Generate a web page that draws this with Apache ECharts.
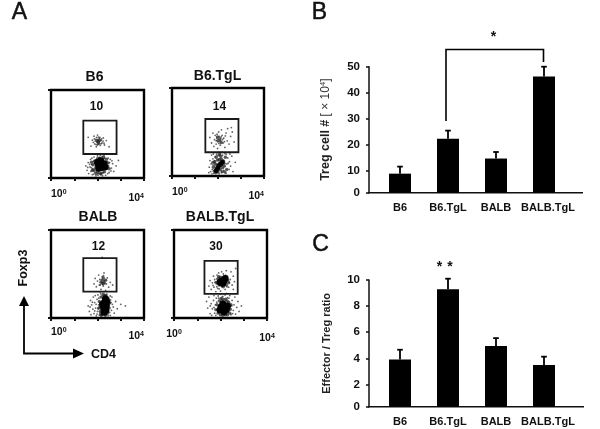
<!DOCTYPE html>
<html><head><meta charset="utf-8">
<style>html,body{margin:0;padding:0;background:#fff}#c{width:600px;height:429px}</style>
<script src="https://cdn.jsdelivr.net/npm/echarts@6/dist/echarts.min.js"></script>
</head><body><div id="c"></div>
<script>
// ---- bar data ----
const categories = ['B6', 'B6.TgL', 'BALB', 'BALB.TgL'];
const tregValues = [9, 22.4, 14.8, 46.2];
const tregUpper = [11.7, 25.5, 17.3, 50];
const ratioValues = [3.92, 9.3, 4.94, 3.5];
const ratioUpper = [4.66, 10.1, 5.55, 4.13];
const tregTicks = [1.7, 10, 20, 30, 40, 50];
const ratioTicks = [0.3, 2, 4, 6, 8, 10];
// ---- flow panels ----
const panelNames = ['B6', 'B6.TgL', 'BALB', 'BALB.TgL'];
const panelPercents = ['10', '14', '12', '30'];
const gateB6 = [1.39, 1.09, 2.82, 2.61];
const gateB6TgL = [1.45, 1.08, 2.89, 2.59];
const gateBALB = [1.39, 1.2, 2.82, 2.72];
const gateBALBTgL = [1.31, 1.1, 2.74, 2.6];
const speckB6 = [[1.6,1.85],[1.72,1.45],[1.78,1.72],[1.85,1.9],[1.88,1.55],[1.92,1.76],[1.95,1.42],[1.98,1.62],[2.0,1.95],[2.02,1.75],[2.05,1.55],[2.07,1.68],[2.1,1.85],[2.12,1.48],[2.15,1.7],[2.2,1.6],[2.25,1.82],[2.3,1.5],[2.38,1.7],[2.5,1.42],[1.9,1.68],[2.0,1.5],[2.08,1.8],[2.18,1.78],[1.5,.55],[1.55,.35],[1.6,.7],[1.62,.2],[1.68,.5],[1.7,.85],[1.72,.3],[1.75,.62],[1.78,.15],[1.8,.42],[1.82,.75],[1.85,.95],[1.88,.25],[1.9,.55],[1.93,.1],[1.95,.82],[1.98,.35],[2.0,1.0],[2.05,.2],[2.08,.92],[2.15,.14],[2.2,.98],[2.25,.25],[2.3,.9],[2.35,.12],[2.4,.4],[2.42,.75],[2.48,.55],[2.5,.25],[2.55,.85],[2.6,.45],[2.65,.65],[2.7,.3],[2.8,.55],[2.9,.8],[1.58,.48],[1.66,.62],[1.74,.46],[1.76,.9],[1.84,.18],[1.86,.66],[1.94,.28],[2.02,.13],[2.12,1.03],[2.22,.1],[2.28,1.02],[2.44,.2],[2.46,.9],[2.52,.7],[2.58,.32],[2.62,.78],[1.82,1.62],[1.86,1.78],[1.94,1.52],[2.04,1.86],[2.16,1.56],[2.24,1.68],[2.28,1.58],[1.96,1.84]];
const midB6 = [[1.8,.6],[1.85,.35],[1.88,.78],[1.92,.45],[1.95,.2],[2.0,.88],[2.02,.28],[2.1,.9],[2.18,.22],[2.3,.28],[2.38,.85],[2.42,.5],[2.45,.68],[2.05,1.58],[1.98,1.7],[2.1,1.72],[1.74,.72],[1.78,.35],[2.12,.2],[2.26,.94],[2.5,.42],[2.02,1.66]];
const coreB6 = [[2.16,.62],[2.04,.6],[2.28,.65],[2.14,.78],[2.2,.48],[2.06,.44],[2.32,.5],[2.0,.72]];
const speckB6TgL = [[1.65,1.75],[1.72,1.5],[1.78,1.95],[1.82,1.35],[1.85,1.65],[1.88,1.85],[1.92,1.45],[1.95,1.72],[1.98,1.25],[2.0,1.55],[2.03,2.0],[2.06,1.8],[2.1,1.4],[2.12,1.62],[2.15,2.1],[2.18,1.85],[2.22,1.5],[2.25,1.72],[2.3,1.3],[2.35,1.95],[2.4,1.6],[2.42,2.15],[2.48,1.45],[2.55,1.8],[2.62,2.0],[2.7,1.55],[2.58,2.2],[1.6,.15],[1.62,.4],[1.65,.7],[1.68,.2],[1.7,.55],[1.72,.95],[1.75,.3],[1.78,.78],[1.8,1.0],[1.82,.12],[1.85,.45],[1.88,.88],[1.9,.22],[1.95,1.05],[2.0,.92],[2.05,.1],[2.1,1.0],[2.15,.15],[2.2,.95],[2.25,.25],[2.3,1.02],[2.35,.12],[2.38,.55],[2.42,.82],[2.48,.3],[2.5,.65],[2.55,.45],[2.6,.9],[2.65,.2],[2.75,.62],[1.92,1.6],[1.96,1.9],[2.04,1.48],[2.08,1.58],[2.14,1.78],[2.2,1.66],[2.28,1.56],[2.32,1.82],[1.74,.1],[1.78,.5],[1.86,.7],[1.94,.96],[2.04,1.08],[2.18,1.08],[2.28,.68],[2.36,.98],[2.44,.58],[2.52,1.0]];
const midB6TgL = [[1.8,.4],[1.85,.65],[1.9,.15],[1.92,.85],[1.96,.5],[2.0,.18],[2.05,.75],[2.1,.3],[2.12,.9],[2.18,.2],[2.22,.7],[2.28,.45],[2.32,.85],[2.38,.3],[2.0,1.62],[2.08,1.7],[2.14,1.52],[1.98,1.78],[1.84,.22],[1.88,.55],[1.98,.72],[2.02,.38],[2.08,.58],[2.14,.78],[2.2,.38],[2.26,.58],[2.3,.18],[1.94,.28],[1.78,.62],[2.06,.98]];
const coreB6TgL = [[1.98,.35],[2.05,.48],[2.12,.55],[1.92,.25],[2.18,.62]];
const speckBALB = [[1.85,1.55],[1.9,1.8],[1.95,1.42],[2.0,1.68],[2.05,1.95],[2.08,1.5],[2.1,1.75],[2.15,1.3],[2.18,1.6],[2.2,1.88],[2.25,1.45],[2.28,2.05],[2.3,1.7],[2.35,1.25],[2.38,1.55],[2.42,1.82],[2.48,1.4],[2.55,1.62],[2.65,1.5],[2.12,1.18],[1.6,.55],[1.65,.3],[1.7,.8],[1.72,.15],[1.75,.6],[1.8,.4],[1.82,.95],[1.85,.2],[1.88,.7],[1.9,1.02],[1.92,.45],[1.95,.1],[1.98,.85],[2.0,.3],[2.02,1.05],[2.05,.6],[2.08,.14],[2.55,.12],[2.58,.7],[2.6,.35],[2.62,.95],[2.68,.5],[2.72,.22],[2.78,.75],[2.85,.42],[3.0,.62],[3.2,.55],[2.2,2.75],[2.05,.9],[2.1,.2],[2.55,1.0],[1.68,.5],[1.78,.72],[1.88,.32],[1.94,.62],[1.98,.18],[2.04,.42],[2.1,.68],[2.14,1.1],[2.2,1.02],[2.4,1.08],[2.46,.1],[2.5,.58],[2.52,.25],[2.56,.82],[2.64,.62],[2.22,1.52],[2.32,1.56],[2.26,1.92],[2.12,1.5]];
const midBALB = [[2.05,.45],[2.08,.75],[2.12,.3],[2.15,.95],[2.18,.15],[2.42,.2],[2.45,.9],[2.5,.45],[2.52,.68],[2.2,1.72],[2.28,1.62],[2.15,1.62],[2.25,1.82],[2.35,1.72],[2.3,1.0],[2.25,1.08],[2.36,1.02],[2.12,.52],[2.16,.12],[2.34,.12],[2.46,.7],[2.24,1.56]];
const coreBALB = [[2.3,.72],[2.26,.45],[2.34,.88],[2.22,.62],[2.38,.55],[2.28,.26],[2.36,.34],[2.4,.75]];
const speckBALBTgL = [[1.5,1.45],[1.55,1.7],[1.6,1.3],[1.65,1.6],[1.7,1.9],[1.72,1.4],[1.75,1.75],[1.8,1.2],[1.82,1.55],[1.85,1.95],[1.88,1.35],[1.92,2.05],[1.95,1.85],[2.0,1.22],[2.05,2.1],[2.12,2.0],[2.2,1.3],[2.25,2.15],[2.3,1.9],[2.35,1.4],[2.42,1.75],[2.45,2.1],[2.5,1.5],[2.55,1.9],[2.6,1.65],[2.55,1.3],[2.65,2.25],[1.4,.75],[1.45,.45],[1.5,.95],[1.55,.2],[1.6,.65],[1.62,.12],[1.65,.42],[1.7,.8],[1.72,1.02],[1.75,.22],[1.78,.6],[1.8,.12],[1.82,.9],[1.85,.38],[1.9,1.0],[2.0,1.08],[2.1,.98],[2.2,1.05],[2.3,.92],[2.4,1.02],[2.45,.15],[2.5,.8],[2.55,.35],[2.58,.6],[2.62,.95],[2.65,.18],[2.7,.48],[2.75,.75],[2.8,.3],[2.9,.55],[1.68,1.48],[1.76,1.62],[1.84,1.42],[1.9,1.68],[1.94,1.32],[2.06,1.42],[2.14,1.9],[2.22,1.95],[2.28,1.42],[2.38,1.62],[1.56,.55],[1.72,.48],[1.84,.72],[1.92,.9],[2.06,.95],[2.16,1.1],[2.26,1.12],[2.36,.9],[2.48,.55],[2.52,.2]];
const midBALBTgL = [[1.85,.6],[1.9,.22],[1.95,.78],[2.0,.14],[2.02,.88],[2.1,.85],[2.22,.85],[2.3,.15],[2.35,.72],[2.42,.4],[2.45,.6],[1.82,1.62],[1.88,1.78],[1.95,1.5],[2.25,1.5],[2.3,1.72],[2.35,1.6],[1.8,.38],[2.1,.12],[2.2,.14],[2.4,.22],[2.28,.78],[1.92,1.88],[2.0,1.86],[2.2,1.6],[2.12,1.42],[2.04,1.5]];
const coreBALBTgL = [[2.15,.47],[2.02,.5],[2.25,.38],[2.1,.65],[2.3,.55],[1.98,.36],[2.15,.28],[2.05,1.68],[2.15,1.72],[1.98,1.62],[2.2,1.8],[2.1,1.58]];

const fmtFont = 'Liberation Sans, Arial, sans-serif';
const flowGrids = [
  {left: 51, top: 90, width: 93, height: 88},
  {left: 172, top: 88, width: 92, height: 88},
  {left: 51, top: 230, width: 93, height: 88},
  {left: 174, top: 230, width: 93, height: 88}
];
const flowLabelMargin = [11, 11, 9, 11];
const flowLabelAlign = ['left', 'left', 'left', 'center'];
const flowGates = [gateB6, gateB6TgL, gateBALB, gateBALBTgL];
const flowSpecks = [speckB6, speckB6TgL, speckBALB, speckBALBTgL];
const flowMids = [midB6, midB6TgL, midBALB, midBALBTgL];
const flowCores = [coreB6, coreB6TgL, coreBALB, coreBALBTgL];

const grid = [], xAxis = [], yAxis = [], series = [];
const base = {fontFamily: fmtFont, fontWeight: 'bold', color: '#111'};
const supRich = {
  a: Object.assign({fontSize: 10.5}, base),
  s: Object.assign({fontSize: 7, padding: [0, 0, 4, 0]}, base),
  c: Object.assign({fontSize: 10.5, padding: [4, 0, 0, 0]}, base),
  d: Object.assign({fontSize: 7}, base)
};
flowGrids.forEach((g, i) => {
  grid.push(Object.assign({show: true, borderColor: '#000', borderWidth: 2.4, backgroundColor: '#fff'}, g));
  xAxis.push({gridIndex: i, type: 'value', min: 0, max: 4, interval: 1,
    axisLine: {show: false}, splitLine: {show: false},
    axisTick: {show: true, inside: false, length: 3, lineStyle: {color: '#111', width: 2}},
    axisLabel: {margin: flowLabelMargin[i], customValues: [0, 4], alignMinLabel: flowLabelAlign[i], alignMaxLabel: i === 3 ? 'center' : 'right',
      formatter: v => v === 0 ? `{a|10}{s|${v}}` : `{c|10}{d|${v}}`, rich: supRich}});
  yAxis.push({gridIndex: i, type: 'value', min: 0, max: 4, interval: 4,
    axisLine: {show: false}, splitLine: {show: false}, axisLabel: {show: false},
    axisTick: {show: true, length: 3, lineStyle: {color: '#111', width: 2}}});
  series.push({type: 'scatter', xAxisIndex: i, yAxisIndex: i, data: flowSpecks[i], symbolSize: 1.8, silent: true,
    itemStyle: {color: '#222', opacity: 0.7}});
  series.push({type: 'scatter', xAxisIndex: i, yAxisIndex: i, data: flowMids[i], symbolSize: 3.4, silent: true,
    itemStyle: {color: '#222', opacity: 0.75}});
  series.push({type: 'scatter', xAxisIndex: i, yAxisIndex: i, data: flowCores[i], symbolSize: i === 1 ? 5 : 7, silent: true,
    itemStyle: {color: '#000', opacity: 1}});
  series.push({type: 'custom', xAxisIndex: i, yAxisIndex: i, silent: true, data: [flowGates[i]],
    encode: {x: [0, 2], y: [1, 3]},
    renderItem: (p, api) => {
      const a = api.coord([api.value(0), api.value(1)]), b = api.coord([api.value(2), api.value(3)]);
      return {type: 'rect', shape: {x: a[0], y: b[1], width: b[0] - a[0], height: a[1] - b[1]},
        style: {fill: 'none', stroke: '#1a1a1a', lineWidth: 1.8}};
    }});
});

function addBars(i, box, vals, upper, ticks, yName, nameRich) {
  grid.push(box);
  xAxis.push({gridIndex: i, type: 'category', data: categories,
    axisLine: {show: false}, axisTick: {show: false},
    axisLabel: {margin: 10, fontFamily: fmtFont, fontWeight: 'bold', fontSize: 11, color: '#111', interval: 0,
      formatter: v => v === 'BALB.TgL' ? `{p|${v}}` : v,
      rich: {p: {fontFamily: fmtFont, fontWeight: 'bold', fontSize: 11, color: '#111', padding: [0, 0, 0, 8]}}}});
  yAxis.push({gridIndex: i, type: 'value', min: ticks[0], max: ticks[ticks.length - 1], offset: 7,
    splitLine: {show: false},
    axisLine: {show: true, lineStyle: {color: '#111', width: 1.5}},
    axisTick: {show: true, length: 3, customValues: ticks, lineStyle: {color: '#111', width: 1.5}},
    axisLabel: {customValues: ticks, margin: 9, fontFamily: fmtFont, fontWeight: 'bold', fontSize: 11.5, color: '#111',
      formatter: v => String(v === ticks[0] ? 0 : v), showMinLabel: true, showMaxLabel: true},
    name: yName, nameLocation: 'middle', nameRotate: 90, nameGap: 37,
    nameTextStyle: Object.assign({fontFamily: fmtFont, color: '#222'}, nameRich)});
  series.push({type: 'bar', xAxisIndex: i, yAxisIndex: i, data: vals, barWidth: 22, silent: true, itemStyle: {color: '#000'}});
  series.push({type: 'custom', xAxisIndex: i, yAxisIndex: i, silent: true, clip: false,
    data: categories.map((c, k) => [k, vals[k], upper[k]]),
    encode: {x: 0, y: [1, 2]},
    renderItem: (p, api) => {
      const a = api.coord([api.value(0), api.value(1)]), b = api.coord([api.value(0), api.value(2)]);
      const st = {stroke: '#000', lineWidth: 1.8, fill: 'none'};
      return {type: 'group', children: [
        {type: 'line', shape: {x1: a[0], y1: a[1], x2: a[0], y2: b[1]}, style: st},
        {type: 'line', shape: {x1: a[0] - 2.8, y1: b[1], x2: a[0] + 2.8, y2: b[1]}, style: st}
      ]};
    }});
}
addBars(4, {left: 376, width: 192, top: 66.7, bottom: 429 - 192.7}, tregValues, tregUpper, tregTicks,
  '{t|Treg cell #} {r|[ × 10}{u|4}{r|]}',
  {rich: {t: {fontFamily: fmtFont, fontWeight: 'bold', fontSize: 12.5, color: '#222'},
          r: {fontFamily: fmtFont, fontSize: 12, color: '#333'},
          u: {fontFamily: fmtFont, fontSize: 7.5, color: '#333', padding: [0, 0, 5, 0]}}});
addBars(5, {left: 376, width: 192, top: 280, bottom: 429 - 406.7}, ratioValues, ratioUpper, ratioTicks,
  'Effector / Treg ratio', {fontWeight: 'bold', fontSize: 11});

const txt = (x, y, text, size, weight, rot, sw) => ({type: 'text', x, y, rotation: rot || 0,
  style: {text, x: 0, y: 0, align: 'center', verticalAlign: 'middle', fontFamily: fmtFont, fontSize: size, fontWeight: weight, fill: '#111', stroke: sw ? '#111' : undefined, lineWidth: sw || 0}});
const titlePos = [[94.5, 77.5], [217.5, 76], [98, 217], [220, 217]];
const pctPos = [[96.5, 107], [219.5, 107], [98.5, 247], [216, 246.5]];
const graphic = [
  txt(19.5, 13, 'A', 23, 'normal', 0, 0.5), txt(319.5, 13, 'B', 23, 'normal', 0, 0.5), txt(320.5, 244.5, 'C', 23, 'normal', 0, 0.5),
  txt(24, 268, 'Foxp3', 12.5, 'bold', Math.PI / 2), txt(103.5, 354.5, 'CD4', 12.5, 'bold'),
  txt(493.5, 37, '*', 14, 'bold'), txt(439.5, 267, '*', 14, 'bold'), txt(450, 267, '*', 14, 'bold'),
  {type: 'polyline', shape: {points: [[24, 298], [24, 353.5], [78, 353.5]]}, style: {stroke: '#000', lineWidth: 1.8, fill: 'none'}},
  {type: 'polygon', shape: {points: [[24, 296], [19, 306], [29, 306]]}, style: {fill: '#000'}},
  {type: 'polygon', shape: {points: [[84, 353.5], [73, 348.5], [73, 358.5]]}, style: {fill: '#000'}},
  {type: 'polyline', shape: {points: [[446, 121], [446, 49.5], [543.5, 49.5], [543.5, 62]]}, style: {stroke: '#000', lineWidth: 1.6, fill: 'none'}},
  {type: 'line', shape: {x1: 368, y1: 192.7, x2: 583, y2: 192.7}, style: {stroke: '#111', lineWidth: 1.5}},
  {type: 'line', shape: {x1: 368, y1: 406.7, x2: 584, y2: 406.7}, style: {stroke: '#111', lineWidth: 1.5}}
];
panelNames.forEach((n, i) => {
  graphic.push(txt(titlePos[i][0], titlePos[i][1], n, 14, 'bold'));
  graphic.push(txt(pctPos[i][0], pctPos[i][1], panelPercents[i], 12, 'bold'));
});
const chart = echarts.init(document.getElementById('c'), null, {renderer: 'canvas'});
chart.setOption({animation: false, backgroundColor: '#fff', grid, xAxis, yAxis, series, graphic});
</script></body></html>
